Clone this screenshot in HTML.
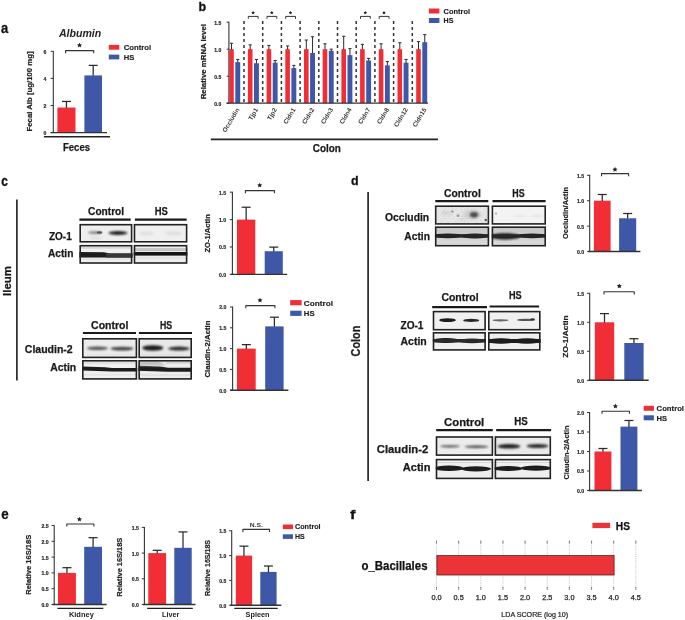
<!DOCTYPE html>
<html><head><meta charset="utf-8"><style>
html,body{margin:0;padding:0;background:#fff;}
body{width:685px;height:620px;overflow:hidden;}
svg{display:block;font-family:"Liberation Sans",sans-serif;filter:blur(0.35px);}
</style></head><body>
<svg width="685" height="620" viewBox="0 0 685 620">
<defs><filter id="f3" x="-50%" y="-50%" width="200%" height="200%"><feGaussianBlur stdDeviation="0.3"/></filter><filter id="f4" x="-50%" y="-50%" width="200%" height="200%"><feGaussianBlur stdDeviation="0.4"/></filter><filter id="f5" x="-50%" y="-50%" width="200%" height="200%"><feGaussianBlur stdDeviation="0.5"/></filter><filter id="f6" x="-50%" y="-50%" width="200%" height="200%"><feGaussianBlur stdDeviation="0.6"/></filter><filter id="f7" x="-50%" y="-50%" width="200%" height="200%"><feGaussianBlur stdDeviation="0.7"/></filter><filter id="f8" x="-50%" y="-50%" width="200%" height="200%"><feGaussianBlur stdDeviation="0.8"/></filter><filter id="f9" x="-50%" y="-50%" width="200%" height="200%"><feGaussianBlur stdDeviation="0.9"/></filter><filter id="f10" x="-50%" y="-50%" width="200%" height="200%"><feGaussianBlur stdDeviation="1.0"/></filter><filter id="f12" x="-50%" y="-50%" width="200%" height="200%"><feGaussianBlur stdDeviation="1.2"/></filter><filter id="f15" x="-50%" y="-50%" width="200%" height="200%"><feGaussianBlur stdDeviation="1.5"/></filter></defs>
<rect width="685" height="620" fill="#fff"/>
<text x="1.0" y="33.4" font-size="14" font-weight="bold" text-anchor="start" fill="#111" textLength="7.2" lengthAdjust="spacingAndGlyphs" stroke="#111" stroke-width="0.3">a</text>
<text x="58.9" y="37.3" font-size="10" font-weight="bold" text-anchor="start" fill="#222" textLength="42.4" lengthAdjust="spacingAndGlyphs" font-style="italic">Albumin</text>
<path d="M65.6 53.2 V50.6 H93.7 V53.2" fill="none" stroke="#333" stroke-width="1.1" stroke-linejoin="round"/>
<polygon points="79.50,42.66 80.28,44.23 82.01,44.48 80.76,45.71 81.05,47.44 79.50,46.62 77.95,47.44 78.24,45.71 76.99,44.48 78.72,44.23" fill="#222"/>
<line x1="53.3" y1="51.0" x2="53.3" y2="132.6" stroke="#333" stroke-width="1.1"/>
<line x1="50.699999999999996" y1="132.6" x2="53.3" y2="132.6" stroke="#333" stroke-width="1.0"/>
<text x="46.4" y="135.07199999999997" font-size="5.2" font-weight="bold" text-anchor="end" fill="#222" stroke="#222" stroke-width="0.15">0</text>
<line x1="50.699999999999996" y1="105.5" x2="53.3" y2="105.5" stroke="#333" stroke-width="1.0"/>
<text x="46.4" y="107.972" font-size="5.2" font-weight="bold" text-anchor="end" fill="#222" stroke="#222" stroke-width="0.15">2</text>
<line x1="50.699999999999996" y1="78.39999999999999" x2="53.3" y2="78.39999999999999" stroke="#333" stroke-width="1.0"/>
<text x="46.4" y="80.87199999999999" font-size="5.2" font-weight="bold" text-anchor="end" fill="#222" stroke="#222" stroke-width="0.15">4</text>
<line x1="50.699999999999996" y1="51.29999999999998" x2="53.3" y2="51.29999999999998" stroke="#333" stroke-width="1.0"/>
<text x="46.4" y="53.771999999999984" font-size="5.2" font-weight="bold" text-anchor="end" fill="#222" stroke="#222" stroke-width="0.15">6</text>
<rect x="57.4" y="107.5325" width="18.1" height="25.067499999999995" fill="#f12e36"/>
<line x1="66.45" y1="101.435" x2="66.45" y2="107.8325" stroke="#2a2a2a" stroke-width="1.25"/>
<line x1="61.95" y1="101.435" x2="70.95" y2="101.435" stroke="#2a2a2a" stroke-width="1.25"/>
<rect x="84.4" y="75.419" width="17.599999999999994" height="57.181" fill="#3f57a7"/>
<line x1="93.2" y1="65.392" x2="93.2" y2="75.719" stroke="#2a2a2a" stroke-width="1.25"/>
<line x1="88.7" y1="65.392" x2="97.7" y2="65.392" stroke="#2a2a2a" stroke-width="1.25"/>
<line x1="50.6" y1="132.6" x2="107.0" y2="132.6" stroke="#333" stroke-width="1.4"/>
<line x1="43.9" y1="136.8" x2="110" y2="136.8" stroke="#222" stroke-width="1.6"/>
<rect x="108.8" y="44.9" width="10.5" height="4.8" fill="#f12e36"/>
<rect x="108.8" y="54.6" width="10.5" height="4.8" fill="#3f57a7"/>
<text x="123.7" y="50.108" font-size="7.8" font-weight="bold" text-anchor="start" fill="#222" textLength="27.5" lengthAdjust="spacingAndGlyphs" stroke="#222" stroke-width="0.15">Control</text>
<text x="123.7" y="59.808" font-size="7.8" font-weight="bold" text-anchor="start" fill="#222" textLength="10.5" lengthAdjust="spacingAndGlyphs" stroke="#222" stroke-width="0.15">HS</text>
<text transform="translate(32.0,91.5) rotate(-90)" x="0" y="0" font-size="7.8" font-weight="bold" text-anchor="middle" fill="#222" textLength="80.0" lengthAdjust="spacingAndGlyphs" stroke="#222" stroke-width="0.2">Fecal Alb [ug/100 mg]</text>
<text x="63.0" y="151.4" font-size="10.5" font-weight="bold" text-anchor="start" fill="#1a1a1a" textLength="27.0" lengthAdjust="spacingAndGlyphs" stroke="#1a1a1a" stroke-width="0.25">Feces</text>
<text x="198.6" y="11.0" font-size="13" font-weight="bold" text-anchor="start" fill="#111" textLength="7.6" lengthAdjust="spacingAndGlyphs" stroke="#111" stroke-width="0.3">b</text>
<line x1="244.0" y1="21.1" x2="244.0" y2="103.0" stroke="#333" stroke-width="1.5" stroke-dasharray="3,3"/>
<line x1="262.7" y1="21.1" x2="262.7" y2="103.0" stroke="#333" stroke-width="1.5" stroke-dasharray="3,3"/>
<line x1="281.4" y1="21.1" x2="281.4" y2="103.0" stroke="#333" stroke-width="1.5" stroke-dasharray="3,3"/>
<line x1="300.1" y1="21.1" x2="300.1" y2="103.0" stroke="#333" stroke-width="1.5" stroke-dasharray="3,3"/>
<line x1="318.8" y1="21.1" x2="318.8" y2="103.0" stroke="#333" stroke-width="1.5" stroke-dasharray="3,3"/>
<line x1="337.5" y1="21.1" x2="337.5" y2="103.0" stroke="#333" stroke-width="1.5" stroke-dasharray="3,3"/>
<line x1="356.2" y1="21.1" x2="356.2" y2="103.0" stroke="#333" stroke-width="1.5" stroke-dasharray="3,3"/>
<line x1="374.9" y1="21.1" x2="374.9" y2="103.0" stroke="#333" stroke-width="1.5" stroke-dasharray="3,3"/>
<line x1="393.6" y1="21.1" x2="393.6" y2="103.0" stroke="#333" stroke-width="1.5" stroke-dasharray="3,3"/>
<line x1="412.29999999999995" y1="21.1" x2="412.29999999999995" y2="103.0" stroke="#333" stroke-width="1.5" stroke-dasharray="3,3"/>
<line x1="228.9" y1="21.8" x2="228.9" y2="103.2" stroke="#333" stroke-width="1.1"/>
<line x1="226.70000000000002" y1="103.2" x2="228.9" y2="103.2" stroke="#333" stroke-width="1.0"/>
<text x="221.2" y="105.6" font-size="5.0" font-weight="bold" text-anchor="end" fill="#222" stroke="#222" stroke-width="0.15">0.0</text>
<line x1="226.70000000000002" y1="76.2" x2="228.9" y2="76.2" stroke="#333" stroke-width="1.0"/>
<text x="221.2" y="78.6" font-size="5.0" font-weight="bold" text-anchor="end" fill="#222" stroke="#222" stroke-width="0.15">0.5</text>
<line x1="226.70000000000002" y1="49.2" x2="228.9" y2="49.2" stroke="#333" stroke-width="1.0"/>
<text x="221.2" y="51.6" font-size="5.0" font-weight="bold" text-anchor="end" fill="#222" stroke="#222" stroke-width="0.15">1.0</text>
<line x1="226.70000000000002" y1="22.200000000000003" x2="228.9" y2="22.200000000000003" stroke="#333" stroke-width="1.0"/>
<text x="221.2" y="24.600000000000005" font-size="5.0" font-weight="bold" text-anchor="end" fill="#222" stroke="#222" stroke-width="0.15">1.5</text>
<rect x="229.2" y="49.2" width="4.599999999999994" height="54.0" fill="#f12e36"/>
<line x1="231.5" y1="43.26" x2="231.5" y2="49.5" stroke="#2a2a2a" stroke-width="1.0"/>
<line x1="229.9" y1="43.26" x2="233.1" y2="43.26" stroke="#2a2a2a" stroke-width="1.0"/>
<rect x="235.29999999999998" y="62.160000000000004" width="4.900000000000006" height="41.04" fill="#3f57a7"/>
<line x1="237.75" y1="59.46" x2="237.75" y2="62.46" stroke="#2a2a2a" stroke-width="1.0"/>
<line x1="236.15" y1="59.46" x2="239.35" y2="59.46" stroke="#2a2a2a" stroke-width="1.0"/>
<rect x="247.89999999999998" y="49.2" width="4.599999999999994" height="54.0" fill="#f12e36"/>
<line x1="250.2" y1="44.879999999999995" x2="250.2" y2="49.5" stroke="#2a2a2a" stroke-width="1.0"/>
<line x1="248.6" y1="44.879999999999995" x2="251.79999999999998" y2="44.879999999999995" stroke="#2a2a2a" stroke-width="1.0"/>
<rect x="253.99999999999997" y="63.24" width="4.900000000000006" height="39.96" fill="#3f57a7"/>
<line x1="256.45" y1="59.46" x2="256.45" y2="63.54" stroke="#2a2a2a" stroke-width="1.0"/>
<line x1="254.85" y1="59.46" x2="258.05" y2="59.46" stroke="#2a2a2a" stroke-width="1.0"/>
<rect x="266.59999999999997" y="49.2" width="4.600000000000023" height="54.0" fill="#f12e36"/>
<line x1="268.9" y1="45.42" x2="268.9" y2="49.5" stroke="#2a2a2a" stroke-width="1.0"/>
<line x1="267.29999999999995" y1="45.42" x2="270.5" y2="45.42" stroke="#2a2a2a" stroke-width="1.0"/>
<rect x="272.7" y="62.7" width="4.899999999999977" height="40.5" fill="#3f57a7"/>
<line x1="275.15" y1="60.54" x2="275.15" y2="63.0" stroke="#2a2a2a" stroke-width="1.0"/>
<line x1="273.54999999999995" y1="60.54" x2="276.75" y2="60.54" stroke="#2a2a2a" stroke-width="1.0"/>
<rect x="285.29999999999995" y="49.2" width="4.600000000000023" height="54.0" fill="#f12e36"/>
<line x1="287.59999999999997" y1="45.96" x2="287.59999999999997" y2="49.5" stroke="#2a2a2a" stroke-width="1.0"/>
<line x1="285.99999999999994" y1="45.96" x2="289.2" y2="45.96" stroke="#2a2a2a" stroke-width="1.0"/>
<rect x="291.4" y="68.1" width="4.899999999999977" height="35.10000000000001" fill="#3f57a7"/>
<line x1="293.84999999999997" y1="65.4" x2="293.84999999999997" y2="68.39999999999999" stroke="#2a2a2a" stroke-width="1.0"/>
<line x1="292.24999999999994" y1="65.4" x2="295.45" y2="65.4" stroke="#2a2a2a" stroke-width="1.0"/>
<rect x="304.0" y="49.2" width="4.600000000000023" height="54.0" fill="#f12e36"/>
<line x1="306.3" y1="40.02000000000001" x2="306.3" y2="49.5" stroke="#2a2a2a" stroke-width="1.0"/>
<line x1="304.7" y1="40.02000000000001" x2="307.90000000000003" y2="40.02000000000001" stroke="#2a2a2a" stroke-width="1.0"/>
<rect x="310.1" y="52.98" width="4.899999999999977" height="50.220000000000006" fill="#3f57a7"/>
<line x1="312.55" y1="36.78" x2="312.55" y2="53.279999999999994" stroke="#2a2a2a" stroke-width="1.0"/>
<line x1="310.95" y1="36.78" x2="314.15000000000003" y2="36.78" stroke="#2a2a2a" stroke-width="1.0"/>
<rect x="322.7" y="49.2" width="4.600000000000023" height="54.0" fill="#f12e36"/>
<line x1="325.0" y1="43.8" x2="325.0" y2="49.5" stroke="#2a2a2a" stroke-width="1.0"/>
<line x1="323.4" y1="43.8" x2="326.6" y2="43.8" stroke="#2a2a2a" stroke-width="1.0"/>
<rect x="328.8" y="50.82000000000001" width="4.899999999999977" height="52.379999999999995" fill="#3f57a7"/>
<line x1="331.25" y1="49.2" x2="331.25" y2="51.120000000000005" stroke="#2a2a2a" stroke-width="1.0"/>
<line x1="329.65" y1="49.2" x2="332.85" y2="49.2" stroke="#2a2a2a" stroke-width="1.0"/>
<rect x="341.4" y="49.2" width="4.600000000000023" height="54.0" fill="#f12e36"/>
<line x1="343.7" y1="36.24000000000001" x2="343.7" y2="49.5" stroke="#2a2a2a" stroke-width="1.0"/>
<line x1="342.09999999999997" y1="36.24000000000001" x2="345.3" y2="36.24000000000001" stroke="#2a2a2a" stroke-width="1.0"/>
<rect x="347.5" y="55.14" width="4.899999999999977" height="48.06" fill="#3f57a7"/>
<line x1="349.95" y1="48.660000000000004" x2="349.95" y2="55.44" stroke="#2a2a2a" stroke-width="1.0"/>
<line x1="348.34999999999997" y1="48.660000000000004" x2="351.55" y2="48.660000000000004" stroke="#2a2a2a" stroke-width="1.0"/>
<rect x="360.1" y="49.2" width="4.600000000000023" height="54.0" fill="#f12e36"/>
<line x1="362.40000000000003" y1="44.339999999999996" x2="362.40000000000003" y2="49.5" stroke="#2a2a2a" stroke-width="1.0"/>
<line x1="360.8" y1="44.339999999999996" x2="364.00000000000006" y2="44.339999999999996" stroke="#2a2a2a" stroke-width="1.0"/>
<rect x="366.20000000000005" y="60.54" width="4.899999999999977" height="42.660000000000004" fill="#3f57a7"/>
<line x1="368.65000000000003" y1="58.38" x2="368.65000000000003" y2="60.839999999999996" stroke="#2a2a2a" stroke-width="1.0"/>
<line x1="367.05" y1="58.38" x2="370.25000000000006" y2="58.38" stroke="#2a2a2a" stroke-width="1.0"/>
<rect x="378.79999999999995" y="49.2" width="4.600000000000023" height="54.0" fill="#f12e36"/>
<line x1="381.09999999999997" y1="43.8" x2="381.09999999999997" y2="49.5" stroke="#2a2a2a" stroke-width="1.0"/>
<line x1="379.49999999999994" y1="43.8" x2="382.7" y2="43.8" stroke="#2a2a2a" stroke-width="1.0"/>
<rect x="384.9" y="65.4" width="4.899999999999977" height="37.8" fill="#3f57a7"/>
<line x1="387.34999999999997" y1="61.620000000000005" x2="387.34999999999997" y2="65.7" stroke="#2a2a2a" stroke-width="1.0"/>
<line x1="385.74999999999994" y1="61.620000000000005" x2="388.95" y2="61.620000000000005" stroke="#2a2a2a" stroke-width="1.0"/>
<rect x="397.5" y="49.2" width="4.600000000000023" height="54.0" fill="#f12e36"/>
<line x1="399.8" y1="42.72" x2="399.8" y2="49.5" stroke="#2a2a2a" stroke-width="1.0"/>
<line x1="398.2" y1="42.72" x2="401.40000000000003" y2="42.72" stroke="#2a2a2a" stroke-width="1.0"/>
<rect x="403.6" y="62.7" width="4.899999999999977" height="40.5" fill="#3f57a7"/>
<line x1="406.05" y1="59.46" x2="406.05" y2="63.0" stroke="#2a2a2a" stroke-width="1.0"/>
<line x1="404.45" y1="59.46" x2="407.65000000000003" y2="59.46" stroke="#2a2a2a" stroke-width="1.0"/>
<rect x="416.2" y="49.2" width="4.600000000000023" height="54.0" fill="#f12e36"/>
<line x1="418.5" y1="41.64000000000001" x2="418.5" y2="49.5" stroke="#2a2a2a" stroke-width="1.0"/>
<line x1="416.9" y1="41.64000000000001" x2="420.1" y2="41.64000000000001" stroke="#2a2a2a" stroke-width="1.0"/>
<rect x="422.3" y="42.18000000000001" width="4.899999999999977" height="61.019999999999996" fill="#3f57a7"/>
<line x1="424.75" y1="34.620000000000005" x2="424.75" y2="42.480000000000004" stroke="#2a2a2a" stroke-width="1.0"/>
<line x1="423.15" y1="34.620000000000005" x2="426.35" y2="34.620000000000005" stroke="#2a2a2a" stroke-width="1.0"/>
<line x1="226.5" y1="103.2" x2="428.0" y2="103.2" stroke="#333" stroke-width="1.2"/>
<path d="M248.29999999999998 18.799999999999997 V16.4 H258.09999999999997 V18.799999999999997" fill="none" stroke="#333" stroke-width="1.0" stroke-linejoin="round"/>
<polygon points="253.10,10.78 253.66,11.92 254.93,12.11 254.01,13.00 254.23,14.25 253.10,13.66 251.97,14.25 252.19,13.00 251.27,12.11 252.54,11.92" fill="#222"/>
<path d="M266.99999999999994 18.799999999999997 V16.4 H276.79999999999995 V18.799999999999997" fill="none" stroke="#333" stroke-width="1.0" stroke-linejoin="round"/>
<polygon points="271.80,10.78 272.36,11.92 273.63,12.11 272.71,13.00 272.93,14.25 271.80,13.66 270.67,14.25 270.89,13.00 269.97,12.11 271.24,11.92" fill="#222"/>
<path d="M285.69999999999993 18.799999999999997 V16.4 H295.49999999999994 V18.799999999999997" fill="none" stroke="#333" stroke-width="1.0" stroke-linejoin="round"/>
<polygon points="290.50,10.78 291.06,11.92 292.33,12.11 291.41,13.00 291.63,14.25 290.50,13.66 289.37,14.25 289.59,13.00 288.67,12.11 289.94,11.92" fill="#222"/>
<path d="M360.5 18.799999999999997 V16.4 H370.3 V18.799999999999997" fill="none" stroke="#333" stroke-width="1.0" stroke-linejoin="round"/>
<polygon points="365.30,10.78 365.86,11.92 367.13,12.11 366.21,13.00 366.43,14.25 365.30,13.66 364.17,14.25 364.39,13.00 363.47,12.11 364.74,11.92" fill="#222"/>
<path d="M379.19999999999993 18.799999999999997 V16.4 H388.99999999999994 V18.799999999999997" fill="none" stroke="#333" stroke-width="1.0" stroke-linejoin="round"/>
<polygon points="384.00,10.78 384.56,11.92 385.83,12.11 384.91,13.00 385.13,14.25 384.00,13.66 382.87,14.25 383.09,13.00 382.17,12.11 383.44,11.92" fill="#222"/>
<text transform="translate(239.7,109.6) rotate(-59)" font-size="6.3" font-weight="bold" text-anchor="end" fill="#333">Occludin</text>
<text transform="translate(258.4,109.6) rotate(-59)" font-size="6.3" font-weight="bold" text-anchor="end" fill="#333">Tjp1</text>
<text transform="translate(277.09999999999997,109.6) rotate(-59)" font-size="6.3" font-weight="bold" text-anchor="end" fill="#333">Tjp2</text>
<text transform="translate(295.79999999999995,109.6) rotate(-59)" font-size="6.3" font-weight="bold" text-anchor="end" fill="#333">Cldn1</text>
<text transform="translate(314.5,109.6) rotate(-59)" font-size="6.3" font-weight="bold" text-anchor="end" fill="#333">Cldn2</text>
<text transform="translate(333.2,109.6) rotate(-59)" font-size="6.3" font-weight="bold" text-anchor="end" fill="#333">Cldn3</text>
<text transform="translate(351.9,109.6) rotate(-59)" font-size="6.3" font-weight="bold" text-anchor="end" fill="#333">Cldn4</text>
<text transform="translate(370.6,109.6) rotate(-59)" font-size="6.3" font-weight="bold" text-anchor="end" fill="#333">Cldn7</text>
<text transform="translate(389.29999999999995,109.6) rotate(-59)" font-size="6.3" font-weight="bold" text-anchor="end" fill="#333">Cldn8</text>
<text transform="translate(408.0,109.6) rotate(-59)" font-size="6.3" font-weight="bold" text-anchor="end" fill="#333">Cldn12</text>
<text transform="translate(426.7,109.6) rotate(-59)" font-size="6.3" font-weight="bold" text-anchor="end" fill="#333">Cldn15</text>
<line x1="210.8" y1="139.4" x2="438.0" y2="139.4" stroke="#222" stroke-width="1.6"/>
<text x="312.8" y="151.8" font-size="10.5" font-weight="bold" text-anchor="start" fill="#1a1a1a" textLength="28.0" lengthAdjust="spacingAndGlyphs" stroke="#1a1a1a" stroke-width="0.25">Colon</text>
<rect x="428.9" y="8.5" width="10.5" height="5.0" fill="#f12e36"/>
<rect x="428.9" y="18.0" width="10.5" height="5.0" fill="#3f57a7"/>
<text x="443.6" y="13.808" font-size="7.8" font-weight="bold" text-anchor="start" fill="#222" textLength="26.4" lengthAdjust="spacingAndGlyphs" stroke="#222" stroke-width="0.15">Control</text>
<text x="443.6" y="23.308" font-size="7.8" font-weight="bold" text-anchor="start" fill="#222" textLength="9.8" lengthAdjust="spacingAndGlyphs" stroke="#222" stroke-width="0.15">HS</text>
<text transform="translate(205.8,61.7) rotate(-90)" x="0" y="0" font-size="7.0" font-weight="bold" text-anchor="middle" fill="#222" textLength="75.3" lengthAdjust="spacingAndGlyphs" stroke="#222" stroke-width="0.2">Relative mRNA level</text>
<text x="1.2" y="185.5" font-size="14" font-weight="bold" text-anchor="start" fill="#111" textLength="6.6" lengthAdjust="spacingAndGlyphs" stroke="#111" stroke-width="0.3">c</text>
<line x1="16.9" y1="199.5" x2="16.9" y2="380.5" stroke="#1a1a1a" stroke-width="1.6"/>
<text transform="translate(10.5,281.0) rotate(-90)" x="0" y="0" font-size="11.5" font-weight="bold" text-anchor="middle" fill="#1a1a1a" textLength="30.0" lengthAdjust="spacingAndGlyphs" stroke="#1a1a1a" stroke-width="0.25">Ileum</text>
<line x1="79.4" y1="219.7" x2="130.7" y2="219.7" stroke="#1a1a1a" stroke-width="2.2"/>
<line x1="134.9" y1="219.7" x2="186.7" y2="219.7" stroke="#1a1a1a" stroke-width="2.2"/>
<text x="88.1" y="215.1" font-size="10.2" font-weight="bold" text-anchor="start" fill="#1a1a1a" textLength="36.0" lengthAdjust="spacingAndGlyphs" stroke="#1a1a1a" stroke-width="0.25">Control</text>
<text x="154.7" y="215.1" font-size="10.2" font-weight="bold" text-anchor="start" fill="#1a1a1a" textLength="13.1" lengthAdjust="spacingAndGlyphs" stroke="#1a1a1a" stroke-width="0.25">HS</text>
<clipPath id="cl1"><rect x="79.4" y="223.9" width="53.0" height="18.69999999999999"/></clipPath>
<g clip-path="url(#cl1)">
<rect x="79.4" y="223.9" width="53.0" height="18.69999999999999" fill="#eeeeee"/>
<ellipse cx="95" cy="232.7" rx="7" ry="1.6" fill="#8a8a8a" filter="url(#f8)"/>
<ellipse cx="99.5" cy="232.5" rx="2.8" ry="1.3" fill="#555" filter="url(#f7)"/>
<ellipse cx="118" cy="233.0" rx="9.5" ry="1.9" fill="#1e1e1e" filter="url(#f8)"/>
<ellipse cx="95" cy="238" rx="6" ry="1" fill="#dadada" filter="url(#f10)"/>
</g>
<rect x="80.2" y="224.70000000000002" width="51.4" height="17.099999999999987" fill="none" stroke="#222" stroke-width="1.6"/>
<clipPath id="cl2"><rect x="133.7" y="223.9" width="53.70000000000002" height="18.69999999999999"/></clipPath>
<g clip-path="url(#cl2)">
<rect x="133.7" y="223.9" width="53.70000000000002" height="18.69999999999999" fill="#f0f0f0"/>
<ellipse cx="146.5" cy="233.3" rx="8" ry="2" fill="#e0e0e0" filter="url(#f12)"/>
<ellipse cx="173.5" cy="233.3" rx="9" ry="2" fill="#dedede" filter="url(#f12)"/>
</g>
<rect x="134.5" y="224.70000000000002" width="52.100000000000016" height="17.099999999999987" fill="none" stroke="#222" stroke-width="1.6"/>
<clipPath id="cl3"><rect x="79.4" y="244.9" width="53.0" height="18.900000000000006"/></clipPath>
<g clip-path="url(#cl3)">
<rect x="79.4" y="244.9" width="53.0" height="18.900000000000006" fill="#efefef"/>
<polygon points="79,251.9 104,252.2 110,253.6 133,253.6 133,257.6 79,257.6" fill="#1c1c1c" filter="url(#f5)"/>
<rect x="106" y="253.4" width="27" height="4.200000000000017" fill="#383838" filter="url(#f6)"/>
<rect x="79" y="247.4" width="54" height="1.0" fill="#c8c8c8" filter="url(#f5)"/>
<rect x="79" y="258.5" width="54" height="1.0" fill="#dddddd" filter="url(#f5)"/>
</g>
<rect x="80.2" y="245.70000000000002" width="51.4" height="17.300000000000004" fill="none" stroke="#222" stroke-width="1.6"/>
<clipPath id="cl4"><rect x="133.7" y="244.9" width="53.70000000000002" height="18.900000000000006"/></clipPath>
<g clip-path="url(#cl4)">
<rect x="133.7" y="244.9" width="53.70000000000002" height="18.900000000000006" fill="#eeeeee"/>
<rect x="133" y="252.0" width="55" height="3.5999999999999943" fill="#161616" filter="url(#f5)"/>
<rect x="133" y="248.2" width="55" height="2.8000000000000114" fill="#c6c6c6" filter="url(#f6)"/>
<rect x="133" y="257.5" width="55" height="1.0" fill="#dedede" filter="url(#f5)"/>
</g>
<rect x="134.5" y="245.70000000000002" width="52.100000000000016" height="17.300000000000004" fill="none" stroke="#222" stroke-width="1.6"/>
<text x="48.9" y="240.3" font-size="10.2" font-weight="bold" text-anchor="start" fill="#1a1a1a" textLength="22.9" lengthAdjust="spacingAndGlyphs" stroke="#1a1a1a" stroke-width="0.25">ZO-1</text>
<text x="48.0" y="257.3" font-size="10.2" font-weight="bold" text-anchor="start" fill="#1a1a1a" textLength="25.4" lengthAdjust="spacingAndGlyphs" stroke="#1a1a1a" stroke-width="0.25">Actin</text>
<line x1="82.9" y1="333.0" x2="136.0" y2="333.0" stroke="#1a1a1a" stroke-width="2.2"/>
<line x1="138.9" y1="333.0" x2="192.0" y2="333.0" stroke="#1a1a1a" stroke-width="2.2"/>
<text x="91.1" y="329.3" font-size="10.2" font-weight="bold" text-anchor="start" fill="#1a1a1a" textLength="37.3" lengthAdjust="spacingAndGlyphs" stroke="#1a1a1a" stroke-width="0.25">Control</text>
<text x="160.0" y="329.3" font-size="10.2" font-weight="bold" text-anchor="start" fill="#1a1a1a" textLength="12.2" lengthAdjust="spacingAndGlyphs" stroke="#1a1a1a" stroke-width="0.25">HS</text>
<clipPath id="cl5"><rect x="82.0" y="338.0" width="55.19999999999999" height="20.19999999999999"/></clipPath>
<g clip-path="url(#cl5)">
<rect x="82.0" y="338.0" width="55.19999999999999" height="20.19999999999999" fill="#ebebeb"/>
<ellipse cx="97.5" cy="348.2" rx="10.5" ry="1.8" fill="#555" filter="url(#f9)"/>
<ellipse cx="122" cy="348.6" rx="11.5" ry="1.9" fill="#454545" filter="url(#f9)"/>
<ellipse cx="110" cy="355.5" rx="25" ry="1" fill="#e2e2e2" filter="url(#f10)"/>
</g>
<rect x="82.8" y="338.8" width="53.59999999999999" height="18.599999999999987" fill="none" stroke="#222" stroke-width="1.6"/>
<clipPath id="cl6"><rect x="138.4" y="338.0" width="53.599999999999994" height="20.19999999999999"/></clipPath>
<g clip-path="url(#cl6)">
<rect x="138.4" y="338.0" width="53.599999999999994" height="20.19999999999999" fill="#e8e8e8"/>
<ellipse cx="152.8" cy="348.0" rx="10.5" ry="2.7" fill="#1e1e1e" filter="url(#f9)"/>
<ellipse cx="179" cy="348.6" rx="11" ry="2.0" fill="#2e2e2e" filter="url(#f9)"/>
<ellipse cx="165" cy="355.5" rx="25" ry="1" fill="#dedede" filter="url(#f10)"/>
</g>
<rect x="139.20000000000002" y="338.8" width="51.99999999999999" height="18.599999999999987" fill="none" stroke="#222" stroke-width="1.6"/>
<clipPath id="cl7"><rect x="82.0" y="360.0" width="55.19999999999999" height="19.69999999999999"/></clipPath>
<g clip-path="url(#cl7)">
<rect x="82.0" y="360.0" width="55.19999999999999" height="19.69999999999999" fill="#efefef"/>
<polygon points="82,366.6 105,367.2 112,368.0 138,368.0 138,371.6 112,371.6 82,370.6" fill="#1c1c1c" filter="url(#f6)"/>
<rect x="82" y="362.5" width="56" height="1.0" fill="#d4d4d4" filter="url(#f5)"/>
<rect x="82" y="374.5" width="56" height="0.8000000000000114" fill="#dcdcdc" filter="url(#f5)"/>
</g>
<rect x="82.8" y="360.8" width="53.59999999999999" height="18.099999999999987" fill="none" stroke="#222" stroke-width="1.6"/>
<clipPath id="cl8"><rect x="138.4" y="360.0" width="53.599999999999994" height="19.69999999999999"/></clipPath>
<g clip-path="url(#cl8)">
<rect x="138.4" y="360.0" width="53.599999999999994" height="19.69999999999999" fill="#ececec"/>
<polygon points="138,365.8 160,366.6 168,367.8 193,367.8 193,371.8 168,371.8 138,370.8" fill="#1a1a1a" filter="url(#f6)"/>
<polygon points="138,361.5 158,361.0 166,365.5 138,365.5" fill="#bdbdbd" filter="url(#f8)"/>
<rect x="166" y="362.2" width="27" height="1.1999999999999886" fill="#c9c9c9" filter="url(#f6)"/>
<rect x="138" y="374.5" width="55" height="1.0" fill="#d8d8d8" filter="url(#f5)"/>
</g>
<rect x="139.20000000000002" y="360.8" width="51.99999999999999" height="18.099999999999987" fill="none" stroke="#222" stroke-width="1.6"/>
<text x="24.8" y="353.0" font-size="10.5" font-weight="bold" text-anchor="start" fill="#1a1a1a" textLength="47.9" lengthAdjust="spacingAndGlyphs" stroke="#1a1a1a" stroke-width="0.25">Claudin-2</text>
<text x="50.2" y="370.7" font-size="10.5" font-weight="bold" text-anchor="start" fill="#1a1a1a" textLength="26.0" lengthAdjust="spacingAndGlyphs" stroke="#1a1a1a" stroke-width="0.25">Actin</text>
<line x1="232.4" y1="191.8" x2="232.4" y2="274.4" stroke="#333" stroke-width="1.1"/>
<line x1="229.8" y1="274.4" x2="232.4" y2="274.4" stroke="#333" stroke-width="1.0"/>
<text x="226.2" y="276.872" font-size="5.2" font-weight="bold" text-anchor="end" fill="#222" stroke="#222" stroke-width="0.15">0.0</text>
<line x1="229.8" y1="246.99999999999997" x2="232.4" y2="246.99999999999997" stroke="#333" stroke-width="1.0"/>
<text x="226.2" y="249.47199999999995" font-size="5.2" font-weight="bold" text-anchor="end" fill="#222" stroke="#222" stroke-width="0.15">0.5</text>
<line x1="229.8" y1="219.59999999999997" x2="232.4" y2="219.59999999999997" stroke="#333" stroke-width="1.0"/>
<text x="226.2" y="222.07199999999997" font-size="5.2" font-weight="bold" text-anchor="end" fill="#222" stroke="#222" stroke-width="0.15">1.0</text>
<line x1="229.8" y1="192.2" x2="232.4" y2="192.2" stroke="#333" stroke-width="1.0"/>
<text x="226.2" y="194.672" font-size="5.2" font-weight="bold" text-anchor="end" fill="#222" stroke="#222" stroke-width="0.15">1.5</text>
<rect x="237.0" y="219.59999999999997" width="18.30000000000001" height="54.80000000000001" fill="#f12e36"/>
<line x1="246.15" y1="207.21519999999998" x2="246.15" y2="219.89999999999998" stroke="#2a2a2a" stroke-width="1.25"/>
<line x1="241.65" y1="207.21519999999998" x2="250.65" y2="207.21519999999998" stroke="#2a2a2a" stroke-width="1.25"/>
<rect x="264.7" y="251.21959999999999" width="18.100000000000023" height="23.18039999999999" fill="#3f57a7"/>
<line x1="273.75" y1="247.10959999999997" x2="273.75" y2="251.5196" stroke="#2a2a2a" stroke-width="1.25"/>
<line x1="269.25" y1="247.10959999999997" x2="278.25" y2="247.10959999999997" stroke="#2a2a2a" stroke-width="1.25"/>
<line x1="230.5" y1="274.4" x2="287.2" y2="274.4" stroke="#333" stroke-width="1.4"/>
<path d="M245.4 193.2 V190.6 H274.5 V193.2" fill="none" stroke="#333" stroke-width="1.1" stroke-linejoin="round"/>
<polygon points="259.70,182.66 260.48,184.23 262.21,184.48 260.96,185.71 261.25,187.44 259.70,186.62 258.15,187.44 258.44,185.71 257.19,184.48 258.92,184.23" fill="#222"/>
<text transform="translate(209.5,233.4) rotate(-90)" x="0" y="0" font-size="7.6" font-weight="bold" text-anchor="middle" fill="#222" textLength="38.4" lengthAdjust="spacingAndGlyphs" stroke="#222" stroke-width="0.2">ZO-1/Actin</text>
<line x1="232.6" y1="306.5" x2="232.6" y2="390.2" stroke="#333" stroke-width="1.1"/>
<line x1="230.0" y1="390.2" x2="232.6" y2="390.2" stroke="#333" stroke-width="1.0"/>
<text x="226.4" y="392.672" font-size="5.2" font-weight="bold" text-anchor="end" fill="#222" stroke="#222" stroke-width="0.15">0.0</text>
<line x1="230.0" y1="369.4" x2="232.6" y2="369.4" stroke="#333" stroke-width="1.0"/>
<text x="226.4" y="371.872" font-size="5.2" font-weight="bold" text-anchor="end" fill="#222" stroke="#222" stroke-width="0.15">0.5</text>
<line x1="230.0" y1="348.59999999999997" x2="232.6" y2="348.59999999999997" stroke="#333" stroke-width="1.0"/>
<text x="226.4" y="351.072" font-size="5.2" font-weight="bold" text-anchor="end" fill="#222" stroke="#222" stroke-width="0.15">1.0</text>
<line x1="230.0" y1="327.79999999999995" x2="232.6" y2="327.79999999999995" stroke="#333" stroke-width="1.0"/>
<text x="226.4" y="330.272" font-size="5.2" font-weight="bold" text-anchor="end" fill="#222" stroke="#222" stroke-width="0.15">1.5</text>
<line x1="230.0" y1="307.0" x2="232.6" y2="307.0" stroke="#333" stroke-width="1.0"/>
<text x="226.4" y="309.47200000000004" font-size="5.2" font-weight="bold" text-anchor="end" fill="#222" stroke="#222" stroke-width="0.15">2.0</text>
<rect x="237.0" y="348.59999999999997" width="18.69999999999999" height="41.60000000000002" fill="#f12e36"/>
<line x1="246.35" y1="344.6064" x2="246.35" y2="348.9" stroke="#2a2a2a" stroke-width="1.25"/>
<line x1="241.85" y1="344.6064" x2="250.85" y2="344.6064" stroke="#2a2a2a" stroke-width="1.25"/>
<rect x="265.2" y="326.38559999999995" width="18.400000000000034" height="63.814400000000035" fill="#3f57a7"/>
<line x1="274.4" y1="317.192" x2="274.4" y2="326.68559999999997" stroke="#2a2a2a" stroke-width="1.25"/>
<line x1="269.9" y1="317.192" x2="278.9" y2="317.192" stroke="#2a2a2a" stroke-width="1.25"/>
<line x1="230.0" y1="390.2" x2="288.4" y2="390.2" stroke="#333" stroke-width="1.4"/>
<path d="M245.8 308.20000000000005 V305.6 H274.9 V308.20000000000005" fill="none" stroke="#333" stroke-width="1.1" stroke-linejoin="round"/>
<polygon points="260.00,297.66 260.78,299.23 262.51,299.48 261.26,300.71 261.55,302.44 260.00,301.62 258.45,302.44 258.74,300.71 257.49,299.48 259.22,299.23" fill="#222"/>
<rect x="290.2" y="300.1" width="11.4" height="5.2" fill="#f12e36"/>
<rect x="290.2" y="310.7" width="11.4" height="5.2" fill="#3f57a7"/>
<text x="303.8" y="305.50800000000004" font-size="7.8" font-weight="bold" text-anchor="start" fill="#222" textLength="29.2" lengthAdjust="spacingAndGlyphs" stroke="#222" stroke-width="0.15">Control</text>
<text x="303.8" y="316.108" font-size="7.8" font-weight="bold" text-anchor="start" fill="#222" textLength="10.8" lengthAdjust="spacingAndGlyphs" stroke="#222" stroke-width="0.15">HS</text>
<text transform="translate(210.1,349.0) rotate(-90)" x="0" y="0" font-size="7.8" font-weight="bold" text-anchor="middle" fill="#222" textLength="57.0" lengthAdjust="spacingAndGlyphs" stroke="#222" stroke-width="0.2">Claudin-2/Actin</text>
<text x="350.9" y="185.0" font-size="13" font-weight="bold" text-anchor="start" fill="#111" textLength="7.6" lengthAdjust="spacingAndGlyphs" stroke="#111" stroke-width="0.3">d</text>
<line x1="368.1" y1="191.9" x2="368.1" y2="481.0" stroke="#1a1a1a" stroke-width="1.6"/>
<text transform="translate(360.3,341.0) rotate(-90)" x="0" y="0" font-size="12" font-weight="bold" text-anchor="middle" fill="#1a1a1a" textLength="31.0" lengthAdjust="spacingAndGlyphs" stroke="#1a1a1a" stroke-width="0.25">Colon</text>
<line x1="435.3" y1="201.1" x2="488.3" y2="201.1" stroke="#1a1a1a" stroke-width="2.2"/>
<line x1="492.5" y1="201.1" x2="545.6" y2="201.1" stroke="#1a1a1a" stroke-width="2.2"/>
<text x="444.0" y="196.6" font-size="10.2" font-weight="bold" text-anchor="start" fill="#1a1a1a" textLength="36.8" lengthAdjust="spacingAndGlyphs" stroke="#1a1a1a" stroke-width="0.25">Control</text>
<text x="512.3" y="196.6" font-size="10.2" font-weight="bold" text-anchor="start" fill="#1a1a1a" textLength="12.3" lengthAdjust="spacingAndGlyphs" stroke="#1a1a1a" stroke-width="0.25">HS</text>
<linearGradient id="gAct" x1="0" y1="0" x2="0" y2="1"><stop offset="0" stop-color="#c6c6c6"/><stop offset="1" stop-color="#dcdcdc"/></linearGradient>
<filter id="noise" x="0" y="0" width="100%" height="100%"><feTurbulence type="fractalNoise" baseFrequency="0.9" numOctaves="2" seed="3"/><feColorMatrix type="matrix" values="0 0 0 0 0.2  0 0 0 0 0.2  0 0 0 0 0.2  0 0 0 -2.2 1.25"/></filter>
<clipPath id="cl9"><rect x="434.9" y="205.4" width="54.30000000000001" height="19.299999999999983"/></clipPath>
<g clip-path="url(#cl9)">
<rect x="434.9" y="205.4" width="54.30000000000001" height="19.299999999999983" fill="#e9e9e9"/>
<ellipse cx="472" cy="214.5" rx="9" ry="5" fill="#d2d2d2" filter="url(#f15)"/>
<ellipse cx="474" cy="214.8" rx="4.2" ry="2.8" fill="#4a4a4a" filter="url(#f12)"/>
<ellipse cx="452.3" cy="211.5" rx="1.2" ry="1.0" fill="#888" filter="url(#f6)"/>
<ellipse cx="458" cy="215.7" rx="1.4" ry="1.2" fill="#9a9a9a" filter="url(#f6)"/>
<ellipse cx="485.8" cy="220" rx="1.2" ry="1.2" fill="#555" filter="url(#f5)"/>
<ellipse cx="446" cy="213" rx="5" ry="2" fill="#d6d6d6" filter="url(#f10)"/>
<ellipse cx="462" cy="219" rx="3" ry="1.5" fill="#d8d8d8" filter="url(#f10)"/>
</g>
<rect x="435.7" y="206.20000000000002" width="52.70000000000001" height="17.69999999999998" fill="none" stroke="#222" stroke-width="1.6"/>
<rect x="435" y="205.5" width="54" height="19" filter="url(#noise)" opacity="0.22"/>
<clipPath id="cl10"><rect x="491.6" y="205.4" width="54.39999999999998" height="19.299999999999983"/></clipPath>
<g clip-path="url(#cl10)">
<rect x="491.6" y="205.4" width="54.39999999999998" height="19.299999999999983" fill="#f3f3f3"/>
<ellipse cx="520" cy="216" rx="6" ry="1.5" fill="#e6e6e6" filter="url(#f10)"/>
<ellipse cx="537" cy="216" rx="6" ry="1.5" fill="#e4e4e4" filter="url(#f10)"/>
<ellipse cx="496" cy="213.5" rx="0.9" ry="0.9" fill="#999" filter="url(#f5)"/>
</g>
<rect x="492.40000000000003" y="206.20000000000002" width="52.799999999999976" height="17.69999999999998" fill="none" stroke="#222" stroke-width="1.6"/>
<clipPath id="cl11"><rect x="434.9" y="226.4" width="54.30000000000001" height="20.099999999999994"/></clipPath>
<g clip-path="url(#cl11)">
<rect x="434.9" y="226.4" width="54.30000000000001" height="20.099999999999994" fill="url(#gAct)"/>
<ellipse cx="448" cy="235.8" rx="14.5" ry="2.4" fill="#1a1a1a" filter="url(#f7)"/>
<ellipse cx="475" cy="236.0" rx="14.5" ry="2.4" fill="#1e1e1e" filter="url(#f7)"/>
<rect x="436" y="234.2" width="52" height="3.4000000000000057" fill="#262626" filter="url(#f6)"/>
</g>
<rect x="435.7" y="227.20000000000002" width="52.70000000000001" height="18.499999999999993" fill="none" stroke="#222" stroke-width="1.6"/>
<clipPath id="cl12"><rect x="491.6" y="226.4" width="54.39999999999998" height="20.099999999999994"/></clipPath>
<g clip-path="url(#cl12)">
<rect x="491.6" y="226.4" width="54.39999999999998" height="20.099999999999994" fill="url(#gAct)"/>
<ellipse cx="505" cy="236.4" rx="15" ry="3.1" fill="#181818" filter="url(#f8)"/>
<ellipse cx="532" cy="235.8" rx="14" ry="2.4" fill="#202020" filter="url(#f7)"/>
<rect x="492" y="234.3" width="53" height="3.299999999999983" fill="#262626" filter="url(#f6)"/>
</g>
<rect x="492.40000000000003" y="227.20000000000002" width="52.799999999999976" height="18.499999999999993" fill="none" stroke="#222" stroke-width="1.6"/>
<text x="384.9" y="221.1" font-size="10.4" font-weight="bold" text-anchor="start" fill="#1a1a1a" textLength="44.3" lengthAdjust="spacingAndGlyphs" stroke="#1a1a1a" stroke-width="0.25">Occludin</text>
<text x="404.3" y="240.0" font-size="10.4" font-weight="bold" text-anchor="start" fill="#1a1a1a" textLength="25.6" lengthAdjust="spacingAndGlyphs" stroke="#1a1a1a" stroke-width="0.25">Actin</text>
<line x1="432.2" y1="307.2" x2="487.0" y2="307.2" stroke="#1a1a1a" stroke-width="2.2"/>
<line x1="489.6" y1="306.5" x2="539.1" y2="306.5" stroke="#1a1a1a" stroke-width="2.2"/>
<text x="441.4" y="301.4" font-size="10.2" font-weight="bold" text-anchor="start" fill="#1a1a1a" textLength="37.2" lengthAdjust="spacingAndGlyphs" stroke="#1a1a1a" stroke-width="0.25">Control</text>
<text x="508.9" y="298.6" font-size="10.2" font-weight="bold" text-anchor="start" fill="#1a1a1a" textLength="12.7" lengthAdjust="spacingAndGlyphs" stroke="#1a1a1a" stroke-width="0.25">HS</text>
<clipPath id="cl13"><rect x="432.7" y="310.8" width="53.19999999999999" height="19.69999999999999"/></clipPath>
<g clip-path="url(#cl13)">
<rect x="432.7" y="310.8" width="53.19999999999999" height="19.69999999999999" fill="#f0f0f0"/>
<ellipse cx="447.5" cy="320.2" rx="8.3" ry="1.9" fill="#1c1c1c" filter="url(#f6)"/>
<ellipse cx="471.2" cy="320.4" rx="8" ry="1.7" fill="#2a2a2a" filter="url(#f6)"/>
</g>
<rect x="433.5" y="311.6" width="51.59999999999999" height="18.099999999999987" fill="none" stroke="#222" stroke-width="1.6"/>
<clipPath id="cl14"><rect x="488.0" y="310.8" width="52.60000000000002" height="19.69999999999999"/></clipPath>
<g clip-path="url(#cl14)">
<rect x="488.0" y="310.8" width="52.60000000000002" height="19.69999999999999" fill="#f0f0f0"/>
<ellipse cx="500.5" cy="320.3" rx="8" ry="1.1" fill="#666" filter="url(#f6)"/>
<ellipse cx="525.5" cy="319.9" rx="8.5" ry="1.2" fill="#555" filter="url(#f6)"/>
<ellipse cx="532.5" cy="319.4" rx="2.5" ry="1.2" fill="#333" filter="url(#f5)"/>
</g>
<rect x="488.8" y="311.6" width="51.00000000000002" height="18.099999999999987" fill="none" stroke="#222" stroke-width="1.6"/>
<clipPath id="cl15"><rect x="432.7" y="332.0" width="53.19999999999999" height="18.69999999999999"/></clipPath>
<g clip-path="url(#cl15)">
<rect x="432.7" y="332.0" width="53.19999999999999" height="18.69999999999999" fill="#f0f0f0"/>
<ellipse cx="446" cy="340.6" rx="14" ry="2.5" fill="#1a1a1a" filter="url(#f7)"/>
<ellipse cx="472" cy="340.9" rx="14" ry="2.4" fill="#222" filter="url(#f7)"/>
<rect x="433" y="339.0" width="53" height="3.3999999999999773" fill="#2a2a2a" filter="url(#f7)"/>
</g>
<rect x="433.5" y="332.8" width="51.59999999999999" height="17.099999999999987" fill="none" stroke="#222" stroke-width="1.6"/>
<clipPath id="cl16"><rect x="488.0" y="332.0" width="52.60000000000002" height="18.69999999999999"/></clipPath>
<g clip-path="url(#cl16)">
<rect x="488.0" y="332.0" width="52.60000000000002" height="18.69999999999999" fill="#eeeeee"/>
<ellipse cx="501" cy="341.0" rx="14" ry="2.8" fill="#151515" filter="url(#f7)"/>
<ellipse cx="527" cy="341.0" rx="14" ry="2.8" fill="#181818" filter="url(#f7)"/>
<rect x="488" y="339.0" width="53" height="4.0" fill="#1e1e1e" filter="url(#f7)"/>
</g>
<rect x="488.8" y="332.8" width="51.00000000000002" height="17.099999999999987" fill="none" stroke="#222" stroke-width="1.6"/>
<text x="400.5" y="328.8" font-size="10.2" font-weight="bold" text-anchor="start" fill="#1a1a1a" textLength="23.0" lengthAdjust="spacingAndGlyphs" stroke="#1a1a1a" stroke-width="0.25">ZO-1</text>
<text x="400.5" y="344.6" font-size="10.2" font-weight="bold" text-anchor="start" fill="#1a1a1a" textLength="26.2" lengthAdjust="spacingAndGlyphs" stroke="#1a1a1a" stroke-width="0.25">Actin</text>
<line x1="436.2" y1="430.2" x2="492.8" y2="430.2" stroke="#1a1a1a" stroke-width="2.2"/>
<line x1="496.2" y1="430.2" x2="551.1" y2="430.2" stroke="#1a1a1a" stroke-width="2.2"/>
<text x="444.1" y="425.8" font-size="10.2" font-weight="bold" text-anchor="start" fill="#1a1a1a" textLength="40.1" lengthAdjust="spacingAndGlyphs" stroke="#1a1a1a" stroke-width="0.25">Control</text>
<text x="514.3" y="425.0" font-size="10.2" font-weight="bold" text-anchor="start" fill="#1a1a1a" textLength="13.5" lengthAdjust="spacingAndGlyphs" stroke="#1a1a1a" stroke-width="0.25">HS</text>
<clipPath id="cl17"><rect x="435.7" y="436.2" width="57.5" height="19.69999999999999"/></clipPath>
<g clip-path="url(#cl17)">
<rect x="435.7" y="436.2" width="57.5" height="19.69999999999999" fill="#ececec"/>
<ellipse cx="450" cy="446.3" rx="10" ry="1.4" fill="#6a6a6a" filter="url(#f9)"/>
<ellipse cx="476.5" cy="446.8" rx="12" ry="1.5" fill="#595959" filter="url(#f9)"/>
</g>
<rect x="436.5" y="437.0" width="55.9" height="18.099999999999987" fill="none" stroke="#222" stroke-width="1.6"/>
<clipPath id="cl18"><rect x="494.6" y="436.2" width="56.5" height="19.69999999999999"/></clipPath>
<g clip-path="url(#cl18)">
<rect x="494.6" y="436.2" width="56.5" height="19.69999999999999" fill="#e9e9e9"/>
<ellipse cx="509" cy="446.3" rx="11.5" ry="2.3" fill="#222" filter="url(#f9)"/>
<ellipse cx="537.5" cy="446.0" rx="11" ry="2.0" fill="#2e2e2e" filter="url(#f9)"/>
</g>
<rect x="495.40000000000003" y="437.0" width="54.9" height="18.099999999999987" fill="none" stroke="#222" stroke-width="1.6"/>
<clipPath id="cl19"><rect x="435.7" y="458.8" width="57.5" height="20.399999999999977"/></clipPath>
<g clip-path="url(#cl19)">
<rect x="435.7" y="458.8" width="57.5" height="20.399999999999977" fill="#eeeeee"/>
<ellipse cx="449" cy="468.2" rx="14.5" ry="2.8" fill="#1a1a1a" filter="url(#f7)"/>
<ellipse cx="476" cy="468.8" rx="15" ry="2.6" fill="#1f1f1f" filter="url(#f7)"/>
<rect x="436" y="462.0" width="57" height="1.0" fill="#d8d8d8" filter="url(#f6)"/>
</g>
<rect x="436.5" y="459.6" width="55.9" height="18.799999999999976" fill="none" stroke="#222" stroke-width="1.6"/>
<clipPath id="cl20"><rect x="494.6" y="458.8" width="56.5" height="20.399999999999977"/></clipPath>
<g clip-path="url(#cl20)">
<rect x="494.6" y="458.8" width="56.5" height="20.399999999999977" fill="#eeeeee"/>
<ellipse cx="508" cy="468.5" rx="14.5" ry="2.6" fill="#1a1a1a" filter="url(#f7)"/>
<ellipse cx="536" cy="468.2" rx="15" ry="2.6" fill="#1f1f1f" filter="url(#f7)"/>
<rect x="495" y="462.0" width="56" height="1.0" fill="#d8d8d8" filter="url(#f6)"/>
</g>
<rect x="495.40000000000003" y="459.6" width="54.9" height="18.799999999999976" fill="none" stroke="#222" stroke-width="1.6"/>
<text x="376.8" y="453.0" font-size="10.6" font-weight="bold" text-anchor="start" fill="#1a1a1a" textLength="51.4" lengthAdjust="spacingAndGlyphs" stroke="#1a1a1a" stroke-width="0.25">Claudin-2</text>
<text x="402.7" y="470.6" font-size="10.6" font-weight="bold" text-anchor="start" fill="#1a1a1a" textLength="27.8" lengthAdjust="spacingAndGlyphs" stroke="#1a1a1a" stroke-width="0.25">Actin</text>
<line x1="589.7" y1="174.8" x2="589.7" y2="251.5" stroke="#333" stroke-width="1.1"/>
<line x1="587.1" y1="251.5" x2="589.7" y2="251.5" stroke="#333" stroke-width="1.0"/>
<text x="584.2" y="253.972" font-size="5.2" font-weight="bold" text-anchor="end" fill="#222" stroke="#222" stroke-width="0.15">0.0</text>
<line x1="587.1" y1="226.1" x2="589.7" y2="226.1" stroke="#333" stroke-width="1.0"/>
<text x="584.2" y="228.57199999999997" font-size="5.2" font-weight="bold" text-anchor="end" fill="#222" stroke="#222" stroke-width="0.15">0.5</text>
<line x1="587.1" y1="200.7" x2="589.7" y2="200.7" stroke="#333" stroke-width="1.0"/>
<text x="584.2" y="203.172" font-size="5.2" font-weight="bold" text-anchor="end" fill="#222" stroke="#222" stroke-width="0.15">1.0</text>
<line x1="587.1" y1="175.3" x2="589.7" y2="175.3" stroke="#333" stroke-width="1.0"/>
<text x="584.2" y="177.77200000000002" font-size="5.2" font-weight="bold" text-anchor="end" fill="#222" stroke="#222" stroke-width="0.15">1.5</text>
<rect x="593.9" y="200.7" width="16.700000000000045" height="50.80000000000001" fill="#f12e36"/>
<line x1="602.25" y1="194.5024" x2="602.25" y2="201.0" stroke="#2a2a2a" stroke-width="1.25"/>
<line x1="597.75" y1="194.5024" x2="606.75" y2="194.5024" stroke="#2a2a2a" stroke-width="1.25"/>
<rect x="619.1" y="218.2768" width="17.100000000000023" height="33.22319999999999" fill="#3f57a7"/>
<line x1="627.6500000000001" y1="213.5016" x2="627.6500000000001" y2="218.57680000000002" stroke="#2a2a2a" stroke-width="1.25"/>
<line x1="623.1500000000001" y1="213.5016" x2="632.1500000000001" y2="213.5016" stroke="#2a2a2a" stroke-width="1.25"/>
<line x1="588.2" y1="251.5" x2="640.4" y2="251.5" stroke="#333" stroke-width="1.4"/>
<path d="M601.5 176.2 V173.6 H628.6 V176.2" fill="none" stroke="#333" stroke-width="1.1" stroke-linejoin="round"/>
<polygon points="615.00,166.86 615.78,168.43 617.51,168.68 616.26,169.91 616.55,171.64 615.00,170.82 613.45,171.64 613.74,169.91 612.49,168.68 614.22,168.43" fill="#222"/>
<text transform="translate(567.9,212.9) rotate(-90)" x="0" y="0" font-size="7.4" font-weight="bold" text-anchor="middle" fill="#222" textLength="52.0" lengthAdjust="spacingAndGlyphs" stroke="#222" stroke-width="0.2">Occludin/Actin</text>
<line x1="589.7" y1="292.8" x2="589.7" y2="380.3" stroke="#333" stroke-width="1.1"/>
<line x1="587.1" y1="380.3" x2="589.7" y2="380.3" stroke="#333" stroke-width="1.0"/>
<text x="584.2" y="382.77200000000005" font-size="5.2" font-weight="bold" text-anchor="end" fill="#222" stroke="#222" stroke-width="0.15">0.0</text>
<line x1="587.1" y1="351.3" x2="589.7" y2="351.3" stroke="#333" stroke-width="1.0"/>
<text x="584.2" y="353.77200000000005" font-size="5.2" font-weight="bold" text-anchor="end" fill="#222" stroke="#222" stroke-width="0.15">0.5</text>
<line x1="587.1" y1="322.3" x2="589.7" y2="322.3" stroke="#333" stroke-width="1.0"/>
<text x="584.2" y="324.77200000000005" font-size="5.2" font-weight="bold" text-anchor="end" fill="#222" stroke="#222" stroke-width="0.15">1.0</text>
<line x1="587.1" y1="293.3" x2="589.7" y2="293.3" stroke="#333" stroke-width="1.0"/>
<text x="584.2" y="295.77200000000005" font-size="5.2" font-weight="bold" text-anchor="end" fill="#222" stroke="#222" stroke-width="0.15">1.5</text>
<rect x="594.8" y="322.3" width="19.40000000000009" height="58.0" fill="#f12e36"/>
<line x1="604.5" y1="313.6" x2="604.5" y2="322.6" stroke="#2a2a2a" stroke-width="1.25"/>
<line x1="600.0" y1="313.6" x2="609.0" y2="313.6" stroke="#2a2a2a" stroke-width="1.25"/>
<rect x="624.3" y="343.00600000000003" width="19.300000000000068" height="37.29399999999998" fill="#3f57a7"/>
<line x1="633.95" y1="338.714" x2="633.95" y2="343.30600000000004" stroke="#2a2a2a" stroke-width="1.25"/>
<line x1="629.45" y1="338.714" x2="638.45" y2="338.714" stroke="#2a2a2a" stroke-width="1.25"/>
<line x1="588.4" y1="380.3" x2="648.7" y2="380.3" stroke="#333" stroke-width="1.4"/>
<path d="M604.0 294.40000000000003 V291.8 H634.3 V294.40000000000003" fill="none" stroke="#333" stroke-width="1.1" stroke-linejoin="round"/>
<polygon points="619.30,283.46 620.08,285.03 621.81,285.28 620.56,286.51 620.85,288.24 619.30,287.42 617.75,288.24 618.04,286.51 616.79,285.28 618.52,285.03" fill="#222"/>
<text transform="translate(568.1,336.5) rotate(-90)" x="0" y="0" font-size="7.4" font-weight="bold" text-anchor="middle" fill="#222" textLength="42.5" lengthAdjust="spacingAndGlyphs" stroke="#222" stroke-width="0.2">ZO-1/Actin</text>
<line x1="589.6" y1="412.0" x2="589.6" y2="490.5" stroke="#333" stroke-width="1.1"/>
<line x1="587.0" y1="490.5" x2="589.6" y2="490.5" stroke="#333" stroke-width="1.0"/>
<text x="584.2" y="492.97200000000004" font-size="5.2" font-weight="bold" text-anchor="end" fill="#222" stroke="#222" stroke-width="0.15">0.0</text>
<line x1="587.0" y1="471.0" x2="589.6" y2="471.0" stroke="#333" stroke-width="1.0"/>
<text x="584.2" y="473.47200000000004" font-size="5.2" font-weight="bold" text-anchor="end" fill="#222" stroke="#222" stroke-width="0.15">0.5</text>
<line x1="587.0" y1="451.5" x2="589.6" y2="451.5" stroke="#333" stroke-width="1.0"/>
<text x="584.2" y="453.97200000000004" font-size="5.2" font-weight="bold" text-anchor="end" fill="#222" stroke="#222" stroke-width="0.15">1.0</text>
<line x1="587.0" y1="432.0" x2="589.6" y2="432.0" stroke="#333" stroke-width="1.0"/>
<text x="584.2" y="434.47200000000004" font-size="5.2" font-weight="bold" text-anchor="end" fill="#222" stroke="#222" stroke-width="0.15">1.5</text>
<line x1="587.0" y1="412.5" x2="589.6" y2="412.5" stroke="#333" stroke-width="1.0"/>
<text x="584.2" y="414.97200000000004" font-size="5.2" font-weight="bold" text-anchor="end" fill="#222" stroke="#222" stroke-width="0.15">2.0</text>
<rect x="594.5" y="451.5" width="16.899999999999977" height="39.0" fill="#f12e36"/>
<line x1="602.95" y1="448.497" x2="602.95" y2="451.8" stroke="#2a2a2a" stroke-width="1.25"/>
<line x1="598.45" y1="448.497" x2="607.45" y2="448.497" stroke="#2a2a2a" stroke-width="1.25"/>
<rect x="620.5" y="426.618" width="16.899999999999977" height="63.882000000000005" fill="#3f57a7"/>
<line x1="628.95" y1="420.495" x2="628.95" y2="426.918" stroke="#2a2a2a" stroke-width="1.25"/>
<line x1="624.45" y1="420.495" x2="633.45" y2="420.495" stroke="#2a2a2a" stroke-width="1.25"/>
<line x1="588.4" y1="490.5" x2="641.9" y2="490.5" stroke="#333" stroke-width="1.4"/>
<path d="M602.0 413.8 V411.2 H629.5 V413.8" fill="none" stroke="#333" stroke-width="1.1" stroke-linejoin="round"/>
<polygon points="615.40,403.66 616.18,405.23 617.91,405.48 616.66,406.71 616.95,408.44 615.40,407.62 613.85,408.44 614.14,406.71 612.89,405.48 614.62,405.23" fill="#222"/>
<rect x="643.7" y="405.8" width="10.2" height="5.0" fill="#f12e36"/>
<rect x="643.7" y="415.3" width="10.2" height="5.0" fill="#3f57a7"/>
<text x="656.6" y="411.036" font-size="7.6" font-weight="bold" text-anchor="start" fill="#222" textLength="27.4" lengthAdjust="spacingAndGlyphs" stroke="#222" stroke-width="0.15">Control</text>
<text x="656.6" y="420.536" font-size="7.6" font-weight="bold" text-anchor="start" fill="#222" textLength="10.6" lengthAdjust="spacingAndGlyphs" stroke="#222" stroke-width="0.15">HS</text>
<text transform="translate(568.8,452.5) rotate(-90)" x="0" y="0" font-size="7.2" font-weight="bold" text-anchor="middle" fill="#222" textLength="54.0" lengthAdjust="spacingAndGlyphs" stroke="#222" stroke-width="0.2">Claudin-2/Actin</text>
<text x="1.2" y="519.4" font-size="14" font-weight="bold" text-anchor="start" fill="#111" textLength="7.4" lengthAdjust="spacingAndGlyphs" stroke="#111" stroke-width="0.3">e</text>
<line x1="54.2" y1="525.2" x2="54.2" y2="604.5" stroke="#333" stroke-width="1.1"/>
<line x1="51.6" y1="604.5" x2="54.2" y2="604.5" stroke="#333" stroke-width="1.0"/>
<text x="48.6" y="606.972" font-size="5.2" font-weight="bold" text-anchor="end" fill="#222" stroke="#222" stroke-width="0.15">0.0</text>
<line x1="51.6" y1="588.7" x2="54.2" y2="588.7" stroke="#333" stroke-width="1.0"/>
<text x="48.6" y="591.172" font-size="5.2" font-weight="bold" text-anchor="end" fill="#222" stroke="#222" stroke-width="0.15">0.5</text>
<line x1="51.6" y1="572.9" x2="54.2" y2="572.9" stroke="#333" stroke-width="1.0"/>
<text x="48.6" y="575.372" font-size="5.2" font-weight="bold" text-anchor="end" fill="#222" stroke="#222" stroke-width="0.15">1.0</text>
<line x1="51.6" y1="557.1" x2="54.2" y2="557.1" stroke="#333" stroke-width="1.0"/>
<text x="48.6" y="559.572" font-size="5.2" font-weight="bold" text-anchor="end" fill="#222" stroke="#222" stroke-width="0.15">1.5</text>
<line x1="51.6" y1="541.3" x2="54.2" y2="541.3" stroke="#333" stroke-width="1.0"/>
<text x="48.6" y="543.7719999999999" font-size="5.2" font-weight="bold" text-anchor="end" fill="#222" stroke="#222" stroke-width="0.15">2.0</text>
<line x1="51.6" y1="525.5" x2="54.2" y2="525.5" stroke="#333" stroke-width="1.0"/>
<text x="48.6" y="527.972" font-size="5.2" font-weight="bold" text-anchor="end" fill="#222" stroke="#222" stroke-width="0.15">2.5</text>
<rect x="58.0" y="572.9" width="17.900000000000006" height="31.600000000000023" fill="#f12e36"/>
<line x1="66.95" y1="567.686" x2="66.95" y2="573.1999999999999" stroke="#2a2a2a" stroke-width="1.25"/>
<line x1="62.45" y1="567.686" x2="71.45" y2="567.686" stroke="#2a2a2a" stroke-width="1.25"/>
<rect x="84.2" y="546.7984" width="17.799999999999997" height="57.701599999999985" fill="#3f57a7"/>
<line x1="93.1" y1="537.6976" x2="93.1" y2="547.0984" stroke="#2a2a2a" stroke-width="1.25"/>
<line x1="88.6" y1="537.6976" x2="97.6" y2="537.6976" stroke="#2a2a2a" stroke-width="1.25"/>
<line x1="52.3" y1="604.5" x2="106.6" y2="604.5" stroke="#333" stroke-width="1.4"/>
<path d="M66.8 526.6 V524.0 H93.9 V526.6" fill="none" stroke="#333" stroke-width="1.1" stroke-linejoin="round"/>
<polygon points="79.40,516.66 80.18,518.23 81.91,518.48 80.66,519.71 80.95,521.44 79.40,520.62 77.85,521.44 78.14,519.71 76.89,518.48 78.62,518.23" fill="#222"/>
<line x1="57.4" y1="608.3" x2="103.3" y2="608.3" stroke="#222" stroke-width="1.3"/>
<text x="68.9" y="616.8" font-size="7.5" font-weight="bold" text-anchor="start" fill="#222" textLength="24.9" lengthAdjust="spacingAndGlyphs">Kidney</text>
<text transform="translate(31.2,564.8) rotate(-90)" x="0" y="0" font-size="7.2" font-weight="bold" text-anchor="middle" fill="#222" textLength="60.0" lengthAdjust="spacingAndGlyphs" stroke="#222" stroke-width="0.2">Relative 16S/18S</text>
<line x1="144.4" y1="527.1" x2="144.4" y2="604.5" stroke="#333" stroke-width="1.1"/>
<line x1="141.8" y1="604.5" x2="144.4" y2="604.5" stroke="#333" stroke-width="1.0"/>
<text x="139.0" y="606.972" font-size="5.2" font-weight="bold" text-anchor="end" fill="#222" stroke="#222" stroke-width="0.15">0.0</text>
<line x1="141.8" y1="578.8" x2="144.4" y2="578.8" stroke="#333" stroke-width="1.0"/>
<text x="139.0" y="581.2719999999999" font-size="5.2" font-weight="bold" text-anchor="end" fill="#222" stroke="#222" stroke-width="0.15">0.5</text>
<line x1="141.8" y1="553.1" x2="144.4" y2="553.1" stroke="#333" stroke-width="1.0"/>
<text x="139.0" y="555.572" font-size="5.2" font-weight="bold" text-anchor="end" fill="#222" stroke="#222" stroke-width="0.15">1.0</text>
<line x1="141.8" y1="527.4" x2="144.4" y2="527.4" stroke="#333" stroke-width="1.0"/>
<text x="139.0" y="529.872" font-size="5.2" font-weight="bold" text-anchor="end" fill="#222" stroke="#222" stroke-width="0.15">1.5</text>
<rect x="148.3" y="553.1" width="17.799999999999983" height="51.39999999999998" fill="#f12e36"/>
<line x1="157.2" y1="550.3244" x2="157.2" y2="553.4" stroke="#2a2a2a" stroke-width="1.25"/>
<line x1="152.7" y1="550.3244" x2="161.7" y2="550.3244" stroke="#2a2a2a" stroke-width="1.25"/>
<rect x="174.3" y="547.8058" width="17.399999999999977" height="56.69420000000002" fill="#3f57a7"/>
<line x1="183.0" y1="531.9232" x2="183.0" y2="548.1057999999999" stroke="#2a2a2a" stroke-width="1.25"/>
<line x1="178.5" y1="531.9232" x2="187.5" y2="531.9232" stroke="#2a2a2a" stroke-width="1.25"/>
<line x1="142.9" y1="604.5" x2="195.5" y2="604.5" stroke="#333" stroke-width="1.4"/>
<line x1="147.2" y1="608.3" x2="192.8" y2="608.3" stroke="#222" stroke-width="1.3"/>
<text x="162.0" y="616.8" font-size="7.5" font-weight="bold" text-anchor="start" fill="#222" textLength="17.2" lengthAdjust="spacingAndGlyphs">Liver</text>
<text transform="translate(122.4,567.2) rotate(-90)" x="0" y="0" font-size="7.2" font-weight="bold" text-anchor="middle" fill="#222" textLength="59.0" lengthAdjust="spacingAndGlyphs" stroke="#222" stroke-width="0.2">Relative 16S/18S</text>
<line x1="231.7" y1="530.2" x2="231.7" y2="605.2" stroke="#333" stroke-width="1.1"/>
<line x1="229.1" y1="605.2" x2="231.7" y2="605.2" stroke="#333" stroke-width="1.0"/>
<text x="226.2" y="607.6" font-size="5.0" font-weight="bold" text-anchor="end" fill="#222" stroke="#222" stroke-width="0.15">0.0</text>
<line x1="229.1" y1="580.4000000000001" x2="231.7" y2="580.4000000000001" stroke="#333" stroke-width="1.0"/>
<text x="226.2" y="582.8000000000001" font-size="5.0" font-weight="bold" text-anchor="end" fill="#222" stroke="#222" stroke-width="0.15">0.5</text>
<line x1="229.1" y1="555.6" x2="231.7" y2="555.6" stroke="#333" stroke-width="1.0"/>
<text x="226.2" y="558.0" font-size="5.0" font-weight="bold" text-anchor="end" fill="#222" stroke="#222" stroke-width="0.15">1.0</text>
<line x1="229.1" y1="530.8000000000001" x2="231.7" y2="530.8000000000001" stroke="#333" stroke-width="1.0"/>
<text x="226.2" y="533.2" font-size="5.0" font-weight="bold" text-anchor="end" fill="#222" stroke="#222" stroke-width="0.15">1.5</text>
<rect x="235.8" y="555.6" width="16.299999999999983" height="49.60000000000002" fill="#f12e36"/>
<line x1="243.95" y1="546.176" x2="243.95" y2="555.9" stroke="#2a2a2a" stroke-width="1.25"/>
<line x1="239.45" y1="546.176" x2="248.45" y2="546.176" stroke="#2a2a2a" stroke-width="1.25"/>
<rect x="260.3" y="571.9184" width="16.30000000000001" height="33.281600000000026" fill="#3f57a7"/>
<line x1="268.45000000000005" y1="566.0160000000001" x2="268.45000000000005" y2="572.2184" stroke="#2a2a2a" stroke-width="1.25"/>
<line x1="263.95000000000005" y1="566.0160000000001" x2="272.95000000000005" y2="566.0160000000001" stroke="#2a2a2a" stroke-width="1.25"/>
<line x1="230.2" y1="605.2" x2="281.3" y2="605.2" stroke="#333" stroke-width="1.4"/>
<path d="M242.9 532.0 V529.4 H269.5 V532.0" fill="none" stroke="#333" stroke-width="1.1" stroke-linejoin="round"/>
<text x="249.7" y="527.0" font-size="5.6" font-weight="bold" text-anchor="start" fill="#333" textLength="13.2" lengthAdjust="spacingAndGlyphs">N.S.</text>
<line x1="234.3" y1="608.3" x2="277.7" y2="608.3" stroke="#222" stroke-width="1.3"/>
<text x="245.6" y="616.8" font-size="7.5" font-weight="bold" text-anchor="start" fill="#222" textLength="23.9" lengthAdjust="spacingAndGlyphs">Spleen</text>
<rect x="282.8" y="524.5" width="10.2" height="4.6" fill="#f12e36"/>
<rect x="282.8" y="534.3" width="10.2" height="4.6" fill="#3f57a7"/>
<text x="295.0" y="529.4639999999999" font-size="7.4" font-weight="bold" text-anchor="start" fill="#222" textLength="25.6" lengthAdjust="spacingAndGlyphs" stroke="#222" stroke-width="0.15">Control</text>
<text x="295.0" y="539.2639999999999" font-size="7.4" font-weight="bold" text-anchor="start" fill="#222" textLength="9.8" lengthAdjust="spacingAndGlyphs" stroke="#222" stroke-width="0.15">HS</text>
<text transform="translate(210.4,568.0) rotate(-90)" x="0" y="0" font-size="7.0" font-weight="bold" text-anchor="middle" fill="#222" textLength="56.0" lengthAdjust="spacingAndGlyphs" stroke="#222" stroke-width="0.2">Relative 16S/18S</text>
<text x="350.0" y="518.8" font-size="13" font-weight="bold" text-anchor="start" fill="#111" textLength="5.4" lengthAdjust="spacingAndGlyphs" stroke="#111" stroke-width="0.3">f</text>
<line x1="436.5" y1="540.7" x2="436.5" y2="589.7" stroke="#999" stroke-width="0.6" stroke-dasharray="1,1.2"/>
<line x1="436.5" y1="540.7" x2="436.5" y2="543.5" stroke="#666" stroke-width="0.8"/>
<line x1="436.5" y1="586.9" x2="436.5" y2="589.7" stroke="#666" stroke-width="0.8"/>
<text x="436.5" y="600.0" font-size="7.4" font-weight="normal" text-anchor="middle" fill="#222" textLength="10.2" lengthAdjust="spacingAndGlyphs" stroke="#222" stroke-width="0.25">0.0</text>
<line x1="458.65" y1="540.7" x2="458.65" y2="589.7" stroke="#999" stroke-width="0.6" stroke-dasharray="1,1.2"/>
<line x1="458.65" y1="540.7" x2="458.65" y2="543.5" stroke="#666" stroke-width="0.8"/>
<line x1="458.65" y1="586.9" x2="458.65" y2="589.7" stroke="#666" stroke-width="0.8"/>
<text x="458.65" y="600.0" font-size="7.4" font-weight="normal" text-anchor="middle" fill="#222" textLength="10.2" lengthAdjust="spacingAndGlyphs" stroke="#222" stroke-width="0.25">0.5</text>
<line x1="480.8" y1="540.7" x2="480.8" y2="589.7" stroke="#999" stroke-width="0.6" stroke-dasharray="1,1.2"/>
<line x1="480.8" y1="540.7" x2="480.8" y2="543.5" stroke="#666" stroke-width="0.8"/>
<line x1="480.8" y1="586.9" x2="480.8" y2="589.7" stroke="#666" stroke-width="0.8"/>
<text x="480.8" y="600.0" font-size="7.4" font-weight="normal" text-anchor="middle" fill="#222" textLength="10.2" lengthAdjust="spacingAndGlyphs" stroke="#222" stroke-width="0.25">1.0</text>
<line x1="502.95" y1="540.7" x2="502.95" y2="589.7" stroke="#999" stroke-width="0.6" stroke-dasharray="1,1.2"/>
<line x1="502.95" y1="540.7" x2="502.95" y2="543.5" stroke="#666" stroke-width="0.8"/>
<line x1="502.95" y1="586.9" x2="502.95" y2="589.7" stroke="#666" stroke-width="0.8"/>
<text x="502.95" y="600.0" font-size="7.4" font-weight="normal" text-anchor="middle" fill="#222" textLength="10.2" lengthAdjust="spacingAndGlyphs" stroke="#222" stroke-width="0.25">1.5</text>
<line x1="525.1" y1="540.7" x2="525.1" y2="589.7" stroke="#999" stroke-width="0.6" stroke-dasharray="1,1.2"/>
<line x1="525.1" y1="540.7" x2="525.1" y2="543.5" stroke="#666" stroke-width="0.8"/>
<line x1="525.1" y1="586.9" x2="525.1" y2="589.7" stroke="#666" stroke-width="0.8"/>
<text x="525.1" y="600.0" font-size="7.4" font-weight="normal" text-anchor="middle" fill="#222" textLength="10.2" lengthAdjust="spacingAndGlyphs" stroke="#222" stroke-width="0.25">2.0</text>
<line x1="547.25" y1="540.7" x2="547.25" y2="589.7" stroke="#999" stroke-width="0.6" stroke-dasharray="1,1.2"/>
<line x1="547.25" y1="540.7" x2="547.25" y2="543.5" stroke="#666" stroke-width="0.8"/>
<line x1="547.25" y1="586.9" x2="547.25" y2="589.7" stroke="#666" stroke-width="0.8"/>
<text x="547.25" y="600.0" font-size="7.4" font-weight="normal" text-anchor="middle" fill="#222" textLength="10.2" lengthAdjust="spacingAndGlyphs" stroke="#222" stroke-width="0.25">2.5</text>
<line x1="569.4" y1="540.7" x2="569.4" y2="589.7" stroke="#999" stroke-width="0.6" stroke-dasharray="1,1.2"/>
<line x1="569.4" y1="540.7" x2="569.4" y2="543.5" stroke="#666" stroke-width="0.8"/>
<line x1="569.4" y1="586.9" x2="569.4" y2="589.7" stroke="#666" stroke-width="0.8"/>
<text x="569.4" y="600.0" font-size="7.4" font-weight="normal" text-anchor="middle" fill="#222" textLength="10.2" lengthAdjust="spacingAndGlyphs" stroke="#222" stroke-width="0.25">3.0</text>
<line x1="591.55" y1="540.7" x2="591.55" y2="589.7" stroke="#999" stroke-width="0.6" stroke-dasharray="1,1.2"/>
<line x1="591.55" y1="540.7" x2="591.55" y2="543.5" stroke="#666" stroke-width="0.8"/>
<line x1="591.55" y1="586.9" x2="591.55" y2="589.7" stroke="#666" stroke-width="0.8"/>
<text x="591.55" y="600.0" font-size="7.4" font-weight="normal" text-anchor="middle" fill="#222" textLength="10.2" lengthAdjust="spacingAndGlyphs" stroke="#222" stroke-width="0.25">3.5</text>
<line x1="613.7" y1="540.7" x2="613.7" y2="589.7" stroke="#999" stroke-width="0.6" stroke-dasharray="1,1.2"/>
<line x1="613.7" y1="540.7" x2="613.7" y2="543.5" stroke="#666" stroke-width="0.8"/>
<line x1="613.7" y1="586.9" x2="613.7" y2="589.7" stroke="#666" stroke-width="0.8"/>
<text x="613.7" y="600.0" font-size="7.4" font-weight="normal" text-anchor="middle" fill="#222" textLength="10.2" lengthAdjust="spacingAndGlyphs" stroke="#222" stroke-width="0.25">4.0</text>
<line x1="635.85" y1="540.7" x2="635.85" y2="589.7" stroke="#999" stroke-width="0.6" stroke-dasharray="1,1.2"/>
<line x1="635.85" y1="540.7" x2="635.85" y2="543.5" stroke="#666" stroke-width="0.8"/>
<line x1="635.85" y1="586.9" x2="635.85" y2="589.7" stroke="#666" stroke-width="0.8"/>
<text x="635.85" y="600.0" font-size="7.4" font-weight="normal" text-anchor="middle" fill="#222" textLength="10.2" lengthAdjust="spacingAndGlyphs" stroke="#222" stroke-width="0.25">4.5</text>
<rect x="436.9" y="555.6" width="177.2" height="19.4" fill="#ea3438" stroke="#5a2020" stroke-width="0.8"/>
<text x="361.5" y="569.8" font-size="12.4" font-weight="bold" text-anchor="start" fill="#111" textLength="66.0" lengthAdjust="spacingAndGlyphs" stroke="#111" stroke-width="0.25">o_Bacillales</text>
<rect x="592.4" y="522.8" width="17.7" height="5.3" fill="#ea3438"/>
<text x="615.8" y="529.5" font-size="11.8" font-weight="bold" text-anchor="start" fill="#111" textLength="14.2" lengthAdjust="spacingAndGlyphs" stroke="#111" stroke-width="0.25">HS</text>
<text x="501.3" y="616.6" font-size="6.8" font-weight="normal" text-anchor="start" fill="#222" textLength="66.8" lengthAdjust="spacingAndGlyphs" stroke="#222" stroke-width="0.2">LDA SCORE (log 10)</text>
</svg>
</body></html>
